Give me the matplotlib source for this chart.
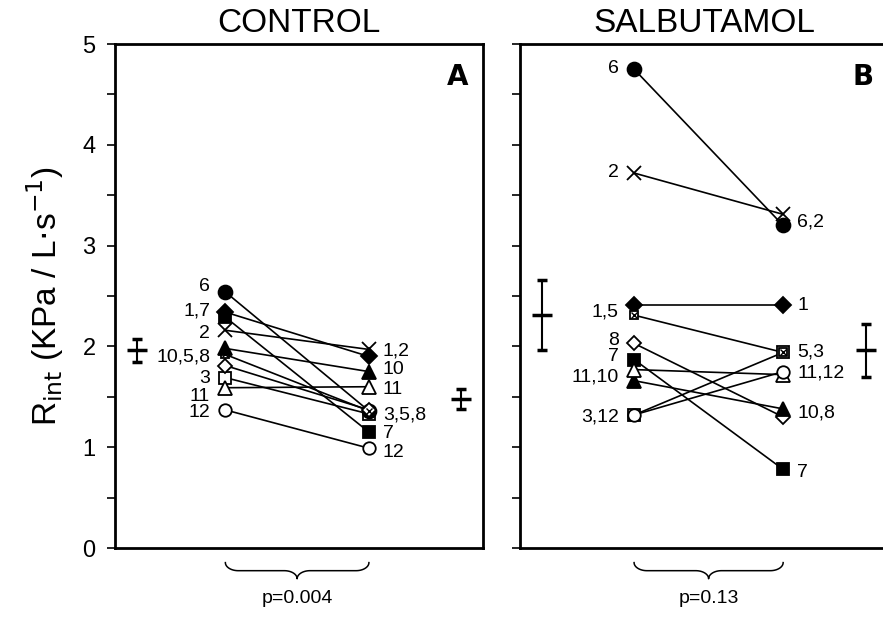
import numpy as np
import matplotlib
matplotlib.use("Agg")
import matplotlib.pyplot as plt
import matplotlib.transforms as mtransforms

# datos
sujetos = ['1', '2', '3', '5', '6', '7', '8', '10', '11', '12']
ctrl_pre = [2.34, 2.16, 1.69, 1.92, 2.54, 2.29, 1.81, 1.98, 1.59, 1.37]
ctrl_post = [1.90, 1.97, 1.33, 1.36, 1.36, 1.15, 1.37, 1.75, 1.60, 0.99]
salb_pre = [2.41, 3.72, 1.32, 2.31, 4.75, 1.87, 2.03, 1.66, 1.77, 1.32]
salb_post = [2.41, 3.31, 1.94, 1.94, 3.20, 0.78, 1.30, 1.38, 1.72, 1.75]

ctrl_media = [1.96, 1.48]
ctrl_ee = [0.115, 0.10]
salb_media = [2.31, 1.96]
salb_ee = [0.35, 0.26]

# etiquetas de sujetos (texto, valor)
ctrl_pre_lab = [('6', 2.59), ('1,7', 2.35), ('2', 2.13), ('10,5,8', 1.89),
                ('3', 1.68), ('11', 1.50), ('12', 1.34)]
ctrl_post_lab = [('1,2', 1.95), ('10', 1.77), ('11', 1.57), ('3,5,8', 1.32),
                 ('7', 1.14), ('12', 0.95)]
salb_pre_lab = [('6', 4.76), ('2', 3.73), ('1,5', 2.34), ('8', 2.06),
                ('7', 1.90), ('11,10', 1.70), ('3,12', 1.30)]
salb_post_lab = [('6,2', 3.23), ('1', 2.41), ('5,3', 1.94), ('11,12', 1.74),
                 ('10,8', 1.34), ('7', 0.75)]

p_valores = ['p=0.004', 'p=0.13']
titulos = ['CONTROL', 'SALBUTAMOL']
letras = ['A', 'B']

# marcadores por sujeto
estilos = {
    '1': ('D', 'k', 8),
    '2': ('x', 'k', 10),
    '3': ('s', 'w', 8),
    '5': ('s', 'w', 6),
    '6': ('o', 'k', 10),
    '7': ('s', 'k', 9),
    '8': ('D', 'w', 7),
    '10': ('^', 'k', 10),
    '11': ('^', 'w', 10),
    '12': ('o', 'w', 9),
}

narrow = ['Liberation Sans Narrow', 'Liberation Sans', 'DejaVu Sans']
plt.rcParams['font.family'] = ['Liberation Sans', 'DejaVu Sans']

fig = plt.figure(figsize=(8.83, 6.19), dpi=100)
ax1 = fig.add_axes([0.1302, 0.1147, 0.4168, 0.8142])
ax2 = fig.add_axes([0.5889, 0.1147, 0.4168, 0.8142])


def llave(ax, x0, x1):
    tr = mtransforms.blended_transform_factory(ax.transData, ax.transAxes)
    rx, ry = 0.035, 0.016
    y_mid = -0.045
    xc = (x0 + x1) / 2
    t1 = np.linspace(np.pi, 1.5 * np.pi, 20)
    t2 = np.linspace(0.5 * np.pi, 0, 20)
    xa = x0 + rx + rx * np.cos(t1)
    ya = y_mid + ry + ry * np.sin(t1)
    xb = xc - rx + rx * np.cos(t2)
    yb = y_mid - ry + ry * np.sin(t2)
    xs = np.concatenate([xa, xb])
    ys = np.concatenate([ya, yb])
    xs = np.concatenate([xs, (2 * xc - xs)[::-1]])
    ys = np.concatenate([ys, ys[::-1]])
    ax.plot(xs, ys, color='k', lw=1.1, transform=tr, clip_on=False)


def panel(ax, pre, post, media, ee, lab_pre, lab_post, xpos, titulo, letra, p):
    x0, x1 = xpos
    for s, a, b in zip(sujetos, pre, post):
        ax.plot([x0, x1], [a, b], color='k', lw=1.2, zorder=2)
    for s, a, b in zip(sujetos, pre, post):
        m, fc, ms = estilos[s]
        ax.plot([x0, x1], [a, b], ls='none', marker=m, mfc=fc, mec='k',
                ms=ms, mew=1.3, zorder=3)
        if s == '5':
            ax.plot([x0, x1], [a, b], ls='none', marker='x', mec='k',
                    ms=5, mew=1.0, zorder=4)
    for t, v in lab_pre:
        ax.annotate(t, (x0, v), xytext=(-11, 0), textcoords='offset points',
                    ha='right', va='center', fontsize=14, family=narrow)
    for t, v in lab_post:
        ax.annotate(t, (x1, v), xytext=(10, 0), textcoords='offset points',
                    ha='left', va='center', fontsize=14, family=narrow)
    ax.errorbar([0.06, 0.94], media, yerr=ee, fmt='_', color='k', ms=15,
                mew=2.5, elinewidth=1.5, capsize=3.8, capthick=1.5, zorder=3)
    ax.set_xlim(0, 1)
    ax.set_ylim(0, 5)
    ax.set_xticks([])
    ax.set_yticks(np.arange(0, 5.01, 0.5))
    ax.tick_params(axis='y', direction='out', length=6, width=1.2, pad=8)
    for sp in ax.spines.values():
        sp.set_linewidth(2)
    ax.text(0.5, 1.01, titulo, transform=ax.transAxes, ha='center',
            va='bottom', fontsize=24)
    ax.text(0.96, 0.935, letra, transform=ax.transAxes, ha='right',
            va='center', fontsize=20, fontweight='bold', family='DejaVu Sans')
    llave(ax, x0, x1)
    ax.text((x0 + x1) / 2, -0.1, p, transform=mtransforms.blended_transform_factory(
        ax.transData, ax.transAxes), ha='center', va='center', fontsize=14,
        family=narrow)


panel(ax1, ctrl_pre, ctrl_post, ctrl_media, ctrl_ee, ctrl_pre_lab, ctrl_post_lab,
      (0.30, 0.69), titulos[0], letras[0], p_valores[0])
panel(ax2, salb_pre, salb_post, salb_media, salb_ee, salb_pre_lab, salb_post_lab,
      (0.31, 0.715), titulos[1], letras[1], p_valores[1])

ax1.set_yticklabels(['0', '', '1', '', '2', '', '3', '', '4', '', '5'], fontsize=17)
ax2.set_yticklabels([])
ax1.set_ylabel(r'R$_{\mathrm{int}}$ (KPa / L$\cdot$s$^{\mathrm{-1}}$)', fontsize=24,
               labelpad=12)

fig.savefig('out.png', dpi=100)
